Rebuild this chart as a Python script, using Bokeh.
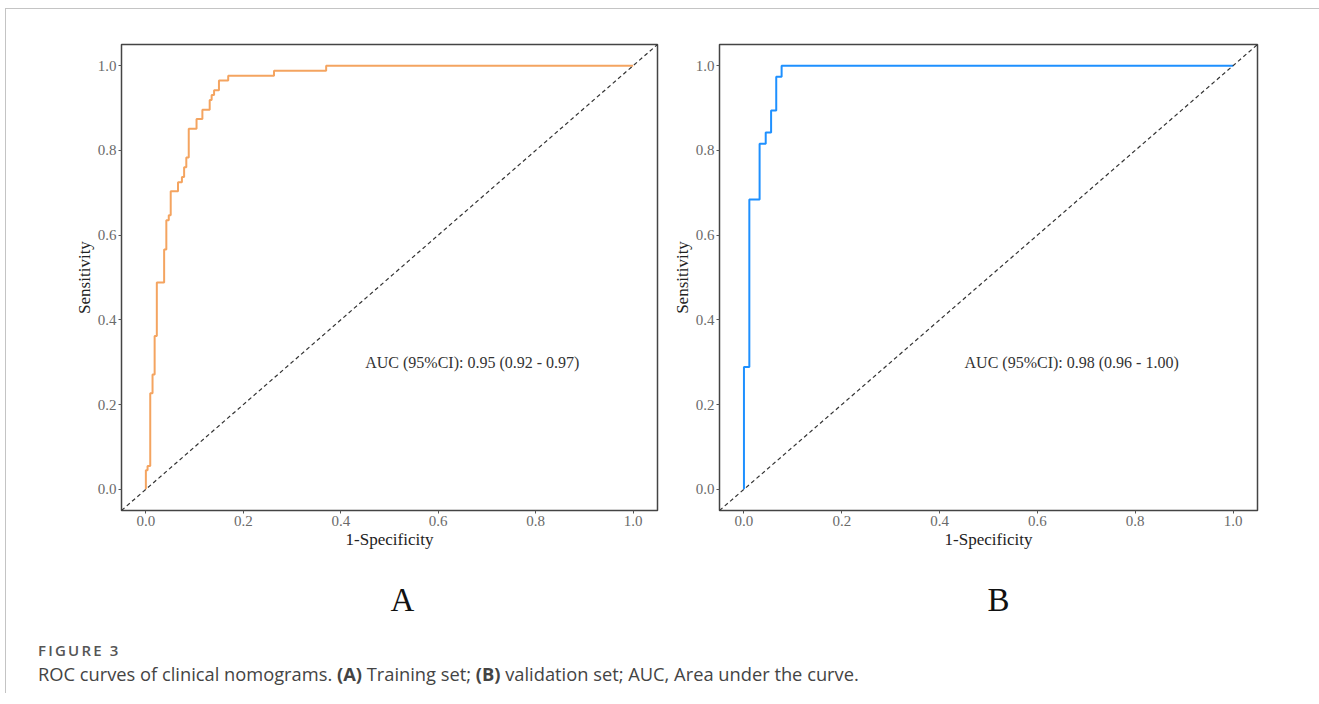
from bokeh.plotting import figure
from bokeh.models import Range1d, FixedTicker, PrintfTickFormatter, Slope, Label, Title, Div
from bokeh.layouts import row, column
from bokeh.embed import file_html
from bokeh.resources import INLINE

# ---- data ----
train_fpr = [0.0, 0.0, 0.0035, 0.009, 0.0137, 0.018, 0.0225, 0.0375, 0.042, 0.047,
             0.051, 0.066, 0.074, 0.0785, 0.083, 0.088, 0.104, 0.116, 0.131, 0.135,
             0.140, 0.150, 0.169, 0.263, 0.370, 1.0]
train_tpr = [0.0, 0.045, 0.055, 0.227, 0.271, 0.362, 0.488, 0.566, 0.635, 0.647,
             0.7035, 0.725, 0.737, 0.760, 0.783, 0.851, 0.874, 0.896, 0.919, 0.931,
             0.942, 0.965, 0.976, 0.988, 1.0, 1.0]
valid_fpr = [0.0, 0.0, 0.011, 0.032, 0.0445, 0.0555, 0.066, 0.077, 1.0]
valid_tpr = [0.0, 0.289, 0.684, 0.816, 0.842, 0.894, 0.974, 1.0, 1.0]

ticks = [0.0, 0.2, 0.4, 0.6, 0.8, 1.0]
auc_train = "AUC (95%CI): 0.95 (0.92 - 0.97)"
auc_valid = "AUC (95%CI): 0.98 (0.96 - 1.00)"
auc_pos = (0.67, 0.30)
panel_letters = ["A", "B"]
caption_head = "FIGURE 3"
caption_html = ("ROC curves of clinical nomograms. <b>(A)</b> Training set; "
                "<b>(B)</b> validation set; AUC, Area under the curve.")

SERIF = "Liberation Serif"


def roc_panel(fpr, tpr, color, auc_text, letter, left, right, fw, letter_off):
    p = figure(frame_width=fw, frame_height=466,
               min_border_left=left, min_border_right=right,
               min_border_top=35, min_border_bottom=128,
               x_range=Range1d(-0.05, 1.05), y_range=Range1d(-0.05, 1.05),
               output_backend="svg", toolbar_location=None,
               background_fill_color="white", border_fill_color="white")
    p.grid.visible = False
    p.outline_line_color = "#444444"
    p.outline_line_width = 1.5
    for ax in (p.xaxis[0], p.yaxis[0]):
        ax.ticker = FixedTicker(ticks=ticks)
        ax.formatter = PrintfTickFormatter(format="%.1f")
        ax.axis_line_color = None
        ax.minor_tick_line_color = None
        ax.major_tick_in = 0
        ax.major_tick_out = 3
        ax.major_tick_line_color = "#555555"
        ax.major_label_text_font = SERIF
        ax.major_label_text_font_size = "15px"
        ax.major_label_text_color = "#6a6a6a"
        ax.major_label_standoff = 2
        ax.axis_label_text_font = SERIF
        ax.axis_label_text_font_size = "17px"
        ax.axis_label_text_font_style = "normal"
        ax.axis_label_text_color = "#222222"
        ax.axis_label_standoff = 1
    p.xaxis.axis_label = "1-Specificity"
    p.yaxis.axis_label = "Sensitivity"

    p.add_layout(Slope(gradient=1, y_intercept=0, line_color="#333333",
                       line_width=1.2, line_dash="4 3"))
    p.step(fpr, tpr, mode="after", line_color=color, line_width=2)
    p.add_layout(Label(x=auc_pos[0], y=auc_pos[1], text=auc_text,
                       text_align="center", text_baseline="middle",
                       text_font=SERIF, text_font_size="16px",
                       text_color="#333333"))
    t = Title(text=letter, align="left", text_font=SERIF,
              text_font_size="33px", text_font_style="normal",
              text_color="#111111", standoff=56, offset=letter_off)
    p.add_layout(t, "below")
    return p


pA = roc_panel(train_fpr, train_tpr, "#F4A460", auc_train, panel_letters[0], 115, 10, 536, 269)
pB = roc_panel(valid_fpr, valid_tpr, "#1E90FF", auc_valid, panel_letters[1], 52, 53, 538, 268)

cap = Div(text=(f"<div style='font-family:\"Open Sans\";color:#555;font-size:15px;"
                f"font-weight:600;letter-spacing:2.2px;line-height:20px;"
                f"padding-left:27px'>{caption_head}</div>"
                f"<div style='font-family:\"Open Sans\";color:#444;font-size:18.3px;"
                f"line-height:27px;padding-left:27px'>{caption_html}</div>"),
          width=1310, height=48, styles={"margin-top": "-5px"})

layout = column(row(pA, pB), cap,
                styles={"border-top": "1px solid #c4c4c4",
                        "border-left": "1px solid #c4c4c4",
                        "margin-left": "5px", "margin-top": "8px"})

open("out.html", "w").write(file_html(layout, INLINE))
